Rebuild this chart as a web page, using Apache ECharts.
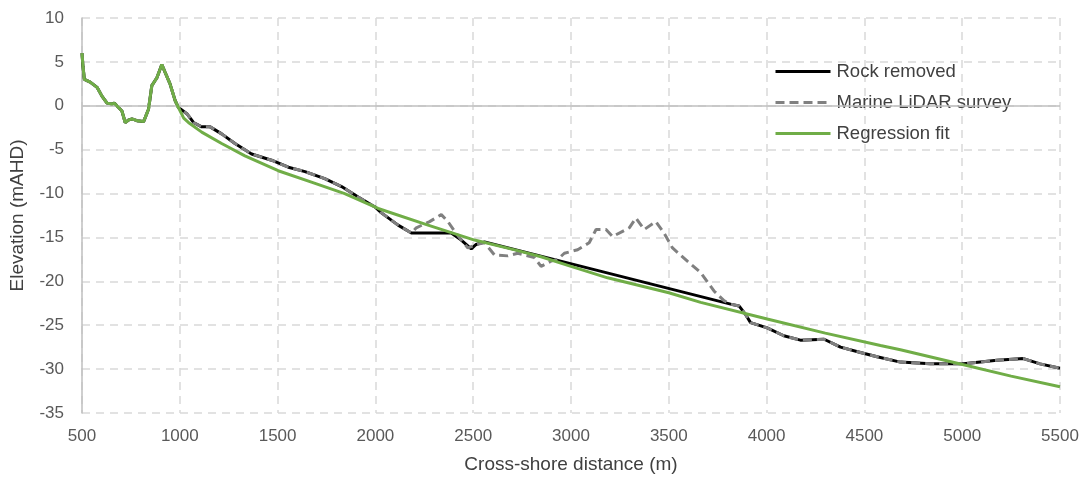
<!DOCTYPE html>
<html>
<head>
<meta charset="utf-8">
<script src="https://cdn.jsdelivr.net/npm/echarts@6/dist/echarts.min.js"></script>
<style>
html,body{margin:0;padding:0;background:#fff;}
#chart{width:1083px;height:479px;}
</style>
</head>
<body>
<div id="chart"></div>
<script>
// Tick settings
const xTicks = {min: 500, max: 5500, step: 500};
const yTicks = {min: -35, max: 10, step: 5};

const seriesNames = ['Rock removed', 'Marine LiDAR survey', 'Regression fit'];

// Nearshore profile (shared by all three series)
const nearX = [500, 505, 512, 542, 577, 602, 628, 653, 665, 687, 704, 721, 740, 755, 781, 815, 840, 857, 883, 908, 925, 950, 976, 993];
const nearY = [6.0, 4.5, 3.0, 2.7, 2.1, 1.1, 0.3, 0.2, 0.3, -0.2, -0.6, -1.9, -1.6, -1.5, -1.7, -1.8, -0.4, 2.3, 3.2, 4.7, 3.8, 2.5, 0.6, -0.2];

// Rock removed (offshore part)
const rockX = [1036, 1070, 1112, 1155, 1214, 1282, 1367, 1469, 1555, 1640, 1741, 1827, 1912, 1996, 2031, 2116, 2184, 2388, 2439, 2490, 2515, 2558, 3816, 3859, 3893, 3918, 4003, 4088, 4173, 4294, 4378, 4480, 4565, 4684, 4837, 5007, 5177, 5313, 5398, 5500];
const rockY = [-0.9, -1.9, -2.4, -2.4, -3.2, -4.3, -5.5, -6.2, -7.0, -7.5, -8.3, -9.2, -10.4, -11.5, -12.2, -13.6, -14.5, -14.5, -15.3, -16.3, -15.8, -15.5, -22.6, -22.8, -23.8, -24.7, -25.3, -26.2, -26.7, -26.6, -27.5, -28.1, -28.6, -29.2, -29.4, -29.4, -29.0, -28.8, -29.4, -29.9];

// Marine LiDAR survey (offshore part)
const lidarX = [1036, 1070, 1112, 1155, 1214, 1282, 1367, 1469, 1555, 1640, 1741, 1827, 1912, 1996, 2031, 2116, 2184, 2209, 2277, 2337, 2371, 2405, 2439, 2473, 2515, 2558, 2609, 2677, 2728, 2813, 2847, 2898, 2932, 2966, 3034, 3093, 3128, 3179, 3213, 3264, 3298, 3332, 3374, 3434, 3476, 3519, 3595, 3663, 3731, 3782, 3816, 3859, 3893, 3918, 4003, 4088, 4173, 4294, 4378, 4480, 4565, 4684, 4837, 5007, 5177, 5313, 5398, 5500];
const lidarY = [-0.9, -1.9, -2.4, -2.4, -3.2, -4.3, -5.5, -6.2, -7.0, -7.5, -8.3, -9.2, -10.4, -11.5, -12.2, -13.6, -14.5, -13.9, -13.2, -12.4, -13.2, -14.3, -15.3, -16.2, -15.8, -15.6, -17.0, -17.1, -16.8, -17.3, -18.3, -17.7, -17.5, -16.8, -16.4, -15.6, -14.1, -14.1, -14.9, -14.3, -13.9, -12.8, -14.1, -13.2, -14.5, -16.2, -17.7, -19.0, -21.1, -22.2, -22.6, -22.8, -23.8, -24.7, -25.3, -26.2, -26.7, -26.6, -27.5, -28.1, -28.6, -29.2, -29.4, -29.4, -29.0, -28.8, -29.4, -29.9];

// Regression fit (offshore part)
const fitX = [1020, 1044, 1112, 1214, 1333, 1503, 1673, 1843, 2014, 2269, 2507, 2728, 2847, 3000, 3187, 3500, 3663, 4003, 4300, 4582, 4684, 5007, 5250, 5500];
const fitY = [-1.4, -1.9, -3.0, -4.3, -5.7, -7.4, -8.7, -10.0, -11.7, -13.6, -15.3, -16.5, -17.2, -18.3, -19.6, -21.3, -22.4, -24.3, -25.9, -27.3, -27.8, -29.5, -30.8, -32.0];

function pairs(xs, ys) { return xs.map((x, i) => [x, ys[i]]); }
const rockData = pairs(nearX.concat(rockX), nearY.concat(rockY));
const lidarData = pairs(nearX.concat(lidarX), nearY.concat(lidarY));
const fitData = pairs(nearX.concat(fitX), nearY.concat(fitY));

const chart = echarts.init(document.getElementById('chart'), null, {renderer: 'canvas'});
const labelFont = '"Liberation Sans", Arial, sans-serif';
const option = {
  backgroundColor: '#ffffff',
  animation: false,
  grid: {left: 80, right: 23, top: 18, bottom: 63, containLabel: false},
  legend: {
    orient: 'vertical',
    left: 769,
    top: 57,
    itemGap: 12,
    itemWidth: 55,
    itemHeight: 19,
    itemStyle: {opacity: 0},
    lineStyle: {width: 3},
    textStyle: {fontFamily: labelFont, fontSize: 18.5, color: '#404040', padding: [0, 0, 0, 1]},
    data: seriesNames
  },
  xAxis: {
    type: 'value',
    min: xTicks.min, max: xTicks.max, interval: xTicks.step,
    name: 'Cross-shore distance (m)',
    nameLocation: 'middle',
    nameGap: 42,
    nameTextStyle: {fontFamily: labelFont, fontSize: 19, color: '#404040'},
    axisLine: {show: false, onZero: false},
    axisTick: {show: false},
    axisLabel: {fontFamily: labelFont, fontSize: 17, color: '#595959', margin: 15,
      formatter: v => String(v)},
    splitLine: {show: true, lineStyle: {color: '#d9d9d9', width: 1.5, type: [8, 6]}}
  },
  yAxis: {
    type: 'value',
    min: yTicks.min, max: yTicks.max, interval: yTicks.step,
    name: 'Elevation (mAHD)',
    nameLocation: 'middle',
    nameGap: 55,
    nameRotate: 90,
    nameTextStyle: {fontFamily: labelFont, fontSize: 19, color: '#404040'},
    axisLine: {show: true, lineStyle: {color: '#bfbfbf', width: 1.5}},
    axisTick: {show: false},
    axisLabel: {fontFamily: labelFont, fontSize: 17, color: '#595959', margin: 18},
    splitLine: {show: true, lineStyle: {color: '#d9d9d9', width: 1.5, type: [8, 6]}}
  },
  series: [
    {
      name: 'zero', type: 'line', data: [], silent: true, z: 1,
      markLine: {silent: true, symbol: 'none', label: {show: false},
        lineStyle: {color: '#bfbfbf', width: 1.5, type: 'solid'}, data: [{yAxis: 0}]}
    },
    {
      name: seriesNames[0], type: 'line', data: rockData, showSymbol: false, symbol: 'none', z: 3,
      lineStyle: {color: '#000000', width: 3}, itemStyle: {color: '#000000'}
    },
    {
      name: seriesNames[1], type: 'line', data: lidarData, showSymbol: false, symbol: 'none', z: 4,
      lineStyle: {color: '#808080', width: 3, type: [9, 5]}, itemStyle: {color: '#808080'}
    },
    {
      name: seriesNames[2], type: 'line', data: fitData, showSymbol: false, symbol: 'none', z: 5,
      lineStyle: {color: '#70ad47', width: 3}, itemStyle: {color: '#70ad47'}
    }
  ]
};
chart.setOption(option);
</script>
</body>
</html>
